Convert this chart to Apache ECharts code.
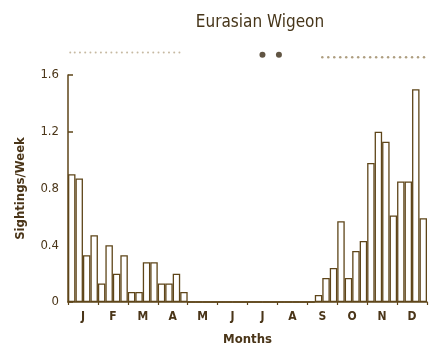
<!DOCTYPE html>
<html><head><meta charset="utf-8">
<script src="https://cdn.jsdelivr.net/npm/echarts@6/dist/echarts.min.js"></script>
<style>html,body{margin:0;padding:0;background:#fff}#c{width:435px;height:354px}</style>
</head><body><div id="c"></div>
<script>
// ---- data ----
const months = ['J','F','M','A','M','J','J','A','S','O','N','D'];
const weeks = Array.from({length: 48}, (_, i) => 'W' + (i + 1));
const sightings = [
  0.90, 0.87, 0.33, 0.47,  0.13, 0.40, 0.20, 0.33,  0.07, 0.07, 0.28, 0.28,  0.13, 0.13, 0.20, 0.07,
  0, 0, 0, 0,  0, 0, 0, 0,  0, 0, 0, 0,  0, 0, 0, 0,
  0, 0.05, 0.17, 0.24,  0.57, 0.17, 0.36, 0.43,  0.98, 1.20, 1.13, 0.61,  0.85, 0.85, 1.50, 0.59
];
// occurrence bar above chart: week index (0-47) and level (1 = faint dot, 2 = heavy dot)
const occWeeksFaint = [0.3, 0.9, 1.6, 2.3, 3.0, 3.7, 4.4, 5.1, 5.8, 6.5, 7.2, 7.9, 8.6, 9.3, 10.0, 10.7, 11.4, 12.1, 12.8, 13.5, 14.2, 14.9];
const occWeeksHeavy = [26.0, 28.2];
const occWeeksRight = [34.0, 34.8, 35.6, 36.4, 37.2, 38.0, 38.8, 39.6, 40.4, 41.2, 42.0, 42.8, 43.6, 44.4, 45.2, 46.0, 46.8, 47.6];

const INK = '#5e4519';
const FONT = '"DejaVu Sans Condensed", "Liberation Sans Narrow", sans-serif';

const chart = echarts.init(document.getElementById('c'), null, {renderer: 'canvas'});
chart.setOption({
  animation: false,
  backgroundColor: '#fff',
  title: {
    text: 'Eurasian Wigeon', left: 255, top: 9, textAlign: 'center',
    textStyle: {fontFamily: FONT, fontSize: 17, fontWeight: 'normal', color: '#47361a'}
  },
  grid: [
    {left: 68, right: 8, top: 75, bottom: 52},
    {left: 68, right: 8, top: 46, height: 16}
  ],
  xAxis: [
    {type: 'category', gridIndex: 0, data: weeks, boundaryGap: true,
     axisLine: {lineStyle: {color: INK, width: 1.5}}, axisTick: {show: false}, axisLabel: {show: false}},
    {type: 'category', gridIndex: 0, data: months, boundaryGap: true, position: 'bottom',
     axisLine: {show: false},
     axisTick: {show: true, length: 3, lineStyle: {color: INK, width: 1.2}},
     axisLabel: {color: '#4a3518', fontFamily: FONT, fontSize: 12, fontWeight: 'bold', margin: 9},
     name: 'Months', nameLocation: 'middle', nameGap: 31,
     nameTextStyle: {color: '#4a3518', fontFamily: FONT, fontSize: 13, fontWeight: 'bold'}},
    {type: 'value', gridIndex: 1, min: 0, max: 48, show: false}
  ],
  yAxis: [
    {type: 'value', gridIndex: 0, min: 0, max: 1.6, interval: 0.4,
     axisLine: {show: true, lineStyle: {color: INK, width: 1.5}},
     axisTick: {show: true, inside: true, length: 5, lineStyle: {color: INK, width: 1.5}},
     splitLine: {show: false},
     axisLabel: {color: '#4a3518', fontFamily: FONT, fontSize: 13, margin: 9},
     name: 'Sightings/Week', nameLocation: 'middle', nameGap: 41, nameRotate: 90,
     nameTextStyle: {color: '#4a3518', fontFamily: FONT, fontSize: 13, fontWeight: 'bold'}},
    {type: 'value', gridIndex: 1, min: 0, max: 1, show: false}
  ],
  series: [
    {type: 'bar', xAxisIndex: 0, yAxisIndex: 0, data: sightings, barCategoryGap: '0%',
     itemStyle: {color: '#fff', borderColor: INK, borderWidth: 1.3}},
    {type: 'scatter', xAxisIndex: 2, yAxisIndex: 1, symbolSize: 2,
     itemStyle: {color: '#b8a88a'}, data: occWeeksFaint.map(w => [w, 0.6])},
    {type: 'scatter', xAxisIndex: 2, yAxisIndex: 1, symbolSize: 6,
     itemStyle: {color: '#3a2a14'}, data: occWeeksHeavy.map(w => [w, 0.45])},
    {type: 'scatter', xAxisIndex: 2, yAxisIndex: 1, symbolSize: 2.5,
     itemStyle: {color: '#9a8660'}, data: occWeeksRight.map(w => [w, 0.3])}
  ]
});
</script></body></html>
